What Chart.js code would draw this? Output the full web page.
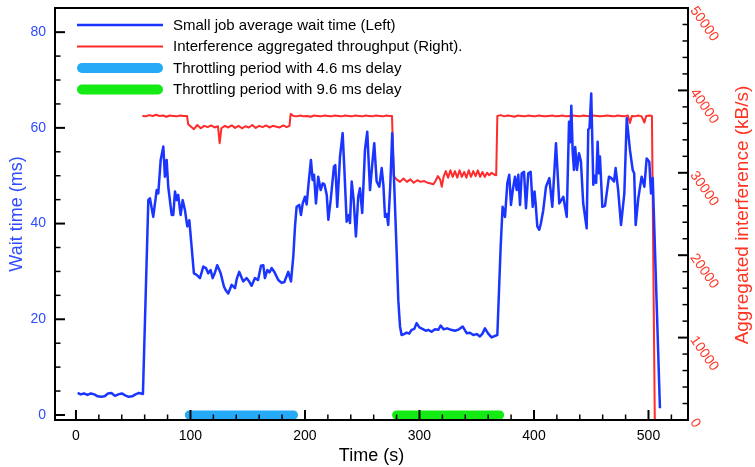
<!DOCTYPE html>
<html>
<head>
<meta charset="utf-8">
<script src="https://cdn.jsdelivr.net/npm/chart.js@4.4.1/dist/chart.umd.min.js"></script>
<style>
body { margin: 0; background: #fff; }
</style>
</head>
<body>
<canvas id="chart" width="755" height="467"></canvas>
<script>
// small job average wait time (ms), left axis
const waitT = [1.5, 4, 7, 10, 13, 16, 19, 22, 25, 28, 31, 34, 37, 40, 43, 46, 49, 52, 55, 58.5,
    63.2, 64.6, 67.5, 70.5, 71.9, 74, 76.3, 77.7, 79.2, 80.6, 83.6, 85, 86.5, 88, 89.3, 91.4, 93.2, 95.2, 97.2, 99,
    101, 103, 105.4, 108.3, 111.2, 113.5, 115.5, 117.6, 119.4, 121, 123.4, 126.4, 129.3, 131, 133, 136, 138.9, 140.5, 142.6, 146.1,
    149, 151, 153.4, 156.3, 159, 161.6, 163.6, 165, 167.1, 169, 170.9, 173, 176.7, 179.6, 182, 185.4, 187.8, 189.8, 191.3, 192.7,
    195, 196.5, 198, 200, 201.5, 202.9, 205.2, 206.7, 207.9, 209.6, 211.6, 213.7, 215.5, 217, 219, 220.4, 222.5, 225.3, 226.5, 228.2,
    230.6, 232.9, 234.3, 236.4, 238.4, 239.3, 240.8, 242.5, 244.5, 246.5, 248, 250, 252.4, 254.4, 256.8, 259.1, 260.5, 262.6, 264.9, 267,
    268.5, 269.9, 271.5, 272.7, 274.5, 276.2, 278, 280, 281.5, 283, 284.4, 286.5, 288.8, 291, 293.2, 295.5, 297.5, 299.9, 303.4, 305.5,
    307.7, 310.6, 313.5, 316.4, 318.5, 321, 324.3, 327.5, 331, 334.5, 337.7, 341.2, 344, 347, 350, 352.8, 355, 357.2, 360, 363,
    365.5, 368, 370.9, 372.6, 374.7, 376.7, 378.4, 379.9, 381.5, 383.4, 384.9, 386.3, 387.8, 389.3, 391.3, 393, 395, 397.1, 398.9, 400.5,
    401.5, 402.9, 404.6, 406, 408.1, 410.5, 413.4, 416, 419.2, 422.1, 425.6, 428.6, 430.6, 431.6, 432.6, 433.8, 434.9, 436, 437.5, 439.3,
    441, 443, 446, 447.4, 448.5, 450, 451.8, 453, 454.3, 455.6, 456.6, 457.6, 459.7, 462, 465.5, 467.5, 469.9, 471.3, 473.5, 476,
    478.9, 481, 483.8, 486.2, 487.5, 488.8, 491.1, 494, 496.4, 498.4, 500.7, 502.2, 503.7, 510]
const waitMs = [4.6, 4.3, 4.5, 4.2, 4.5, 4.3, 3.9, 3.8, 3.9, 4.5, 4.6, 4.0, 4.3, 4.5, 4.1, 3.8, 3.9, 4.3, 4.6, 4.4,
    44.9, 45.3, 41.4, 47, 46.3, 53.3, 56.1, 49.8, 53.3, 47.7, 41.8, 41.8, 46.7, 44.9, 46, 41.8, 44.9, 42.8, 39.4, 40.7,
    35.2, 29.6, 29.3, 28.6, 31, 30.7, 29.6, 30.3, 28.6, 29.5, 31.3, 29.6, 26.8, 26, 25.4, 27.2, 26.5, 28.5, 29.9, 27.9,
    28.6, 28, 27, 28.6, 28.2, 31.2, 31.3, 28.6, 30.3, 29.8, 30.7, 30, 28.2, 27.6, 27.8, 29.9, 27.9, 33.1, 39.4, 43.5,
    43.9, 41.8, 44.2, 45.6, 44, 47.7, 53.3, 49.1, 50.2, 44.2, 49.8, 47, 48.4, 48.2, 46, 40.8, 45, 51.9, 52.2, 43.5,
    54, 58.9, 51.9, 40.4, 41.8, 40.1, 48.8, 45, 37.3, 45.6, 47.4, 42.2, 55.4, 59.2, 47, 53.3, 56.8, 48.8, 47.7, 51.6,
    48, 41.4, 42, 39.7, 48, 58.9, 47.7, 34.5, 24, 18.5, 16.7, 16.9, 17.2, 17, 17.8, 18, 19.2, 18.3, 17.9, 17.6,
    17.8, 17.4, 17.9, 17.8, 18.7, 17.9, 18.1, 17.8, 17.6, 17.9, 18.5, 17.1, 17.2, 16.7, 16.9, 16.4, 17, 18.1, 17, 16.2,
    16.5, 16.7, 35.2, 43.5, 41.4, 48.4, 50.2, 43.9, 47, 49.8, 47, 50.2, 43.9, 50.5, 50.8, 43.2, 50.5, 50.8, 43.5, 46.7,
    44, 39.4, 38.7, 40, 42.8, 47.7, 49.5, 43.5, 56.8, 44.2, 45.6, 41.4, 61.3, 57, 64.6, 55, 51.2, 56, 51.2, 54.7,
    53, 44.2, 39, 59.6, 60, 67.2, 48.1, 50, 48.5, 57.1, 50.5, 54, 43.5, 43.7, 49.8, 49.5, 48.8, 51.6, 47, 39.7,
    46.3, 62, 55.4, 51.2, 50.5, 39.7, 45.3, 49.8, 47.7, 53.6, 52.9, 46.3, 49.5, 1.4]

// interference aggregated throughput (kB/s), right axis
const tputT = [58, 61, 64, 67, 70, 73, 76, 79, 82, 85, 88, 91, 94, 97, 98, 100, 103, 106, 109, 112,
    115, 118, 121, 124, 125.5, 127, 130, 133, 136, 139, 142, 145, 148, 151, 154, 157, 160, 163, 166, 169,
    172, 175, 178, 181, 184, 186.5, 187.5, 190, 193, 196, 199, 202, 205, 208, 211, 214, 217, 220, 223, 226,
    229, 232, 235, 238, 241, 244, 247, 250, 253, 256, 259, 262, 265, 268, 271, 274, 276, 277.5, 280, 283,
    286, 289, 292, 295, 298, 301, 304, 307, 310, 312, 314, 316, 318, 319.5, 321, 323, 325, 327, 329, 331,
    333, 335, 337, 339, 341, 343, 345, 347, 349, 351, 353, 355, 357, 359, 361, 363, 365, 367, 368, 371,
    374, 377, 380, 383, 386, 389, 392, 395, 398, 401, 404, 407, 410, 413, 416, 419, 422, 425, 428, 431,
    434, 437, 440, 443, 446, 449, 452, 455, 458, 461, 464, 467, 470, 473, 476, 479, 482, 483.8, 485.5, 488,
    491, 494, 496.4, 498, 501, 503, 505.5]
const tputKBs = [36900, 36850, 37000, 36900, 37050, 36900, 36950, 36800, 36950, 36900, 36850, 36950, 36900, 36900, 35900, 35650, 35300, 35800, 35400, 35700,
    35550, 35750, 35500, 35650, 33600, 35400, 35700, 35500, 35750, 35450, 35700, 35400, 35650, 35500, 35800, 35450, 35700, 35550, 35750, 35500,
    35700, 35600, 35500, 35750, 35550, 35700, 37150, 36900, 36850, 36950, 36850, 36900, 36800, 36950, 36900, 36850, 36950, 36900, 36850, 36950,
    36900, 36850, 36950, 36900, 36850, 36950, 36900, 36850, 36950, 36900, 36850, 36950, 36900, 36850, 36950, 36900, 36900, 29600, 29200, 28900,
    29300, 28900, 29200, 28800, 29100, 28900, 29000, 28800, 28700, 28600, 29000, 29600, 29200, 28300, 29500, 30200, 29400, 30300, 29500, 30200,
    29400, 30300, 29500, 30100, 29400, 30300, 29500, 30200, 29600, 30300, 29500, 30100, 29500, 30000, 29700, 30000, 29800, 29700, 36900, 37000,
    36850, 36950, 36900, 36800, 36950, 36900, 36850, 36950, 36900, 36850, 36950, 36900, 36850, 36900, 36950, 36850, 36900, 36950, 36850, 36900,
    36950, 36900, 36850, 36950, 36900, 36850, 36950, 36900, 36850, 36900, 36950, 36900, 36850, 36950, 36900, 36850, 36950, 36050, 36900, 36850,
    36950, 36850, 36100, 36900, 36950, 36900, 0]

// throttling periods (s), drawn along wait = 0
const throttle46T = [99, 190]
const throttle96T = [280, 370]
const throttleMs = [0, 0]

const timeTicks = [0, 100, 200, 300, 400, 500]
const waitTicks = [0, 20, 40, 60, 80]
const tputTicks = [0, 10000, 20000, 30000, 40000, 50000]

const FONT = "'Liberation Sans', Arial, Helvetica, sans-serif"
const BLUE = "#1a35ff"
const RED = "#ff2a2a"
const LEFT_TXT = "#2f4cff"
const RIGHT_TXT = "#ff3322"

function pairs(xs, ys){
    return xs.map((x, i) => ({x: x, y: ys[i]}))
}

function fixTicks(values){
    return scale => { scale.ticks = values.map(v => ({value: v})) }
}

// frame with inward tick marks, major and minor
const frameTicks = {
    id: "frameTicks",
    afterDatasetsDraw(chart){
        const ctx = chart.ctx
        const a = chart.chartArea
        const sx = chart.scales.x, sy = chart.scales.y, sy2 = chart.scales.y2
        ctx.save()
        ctx.strokeStyle = "#000"
        ctx.lineCap = "butt"
        function tick(x1, y1, x2, y2, w){
            ctx.lineWidth = w
            ctx.beginPath()
            ctx.moveTo(x1, y1)
            ctx.lineTo(x2, y2)
            ctx.stroke()
        }
        for(let v = 0; v <= 520; v += 20){
            let px = sx.getPixelForValue(v)
            let major = v % 100 === 0
            tick(px, a.bottom, px, a.bottom - (major ? 10 : 5.5), major ? 2 : 1.5)
        }
        for(let v = 0; v <= 80; v += 5){
            let py = sy.getPixelForValue(v)
            let major = v % 20 === 0
            tick(a.left, py, a.left + (major ? 10 : 5.5), py, major ? 2 : 1.5)
        }
        for(let v = 0; v <= 50000; v += 2000){
            let py = sy2.getPixelForValue(v)
            let major = v % 10000 === 0
            tick(a.right, py, a.right - (major ? 10 : 5.5), py, major ? 2 : 1.5)
        }
        ctx.lineWidth = 2
        ctx.strokeRect(a.left, a.top, a.right - a.left, a.bottom - a.top)

        // right axis title reads bottom to top
        ctx.fillStyle = RIGHT_TXT
        ctx.font = "19px " + FONT
        ctx.textAlign = "center"
        ctx.textBaseline = "middle"
        ctx.translate(743, 215)
        ctx.rotate(-Math.PI / 2)
        ctx.fillText("Aggregated interference (kB/s)", 0, 0)
        ctx.restore()
    }
}

// legend inside the top-left of the plot
const insideLegend = {
    id: "insideLegend",
    afterDraw(chart){
        const ctx = chart.ctx
        ctx.save()
        ctx.font = "15px " + FONT
        ctx.textAlign = "left"
        ctx.textBaseline = "middle"
        chart.data.datasets.forEach((ds, i) => {
            let y = 25 + i * 21.5
            let round = ds.borderCapStyle === "round"
            let inset = round ? ds.borderWidth / 2 + 0.5 : 0
            ctx.strokeStyle = ds.borderColor
            ctx.lineWidth = round ? 10 : ds.borderWidth
            ctx.lineCap = round ? "round" : "butt"
            ctx.beginPath()
            ctx.moveTo(77 + inset, y)
            ctx.lineTo(163 - inset, y)
            ctx.stroke()
            ctx.fillStyle = "#000"
            ctx.fillText(ds.label, 173, y + 0.5)
        })
        ctx.restore()
    }
}

const config = {
    type: "line",
    data: {
        datasets: [{
            label: "Small job average wait time (Left)",
            data: pairs(waitT, waitMs),
            borderColor: BLUE,
            borderWidth: 2.5,
            yAxisID: "y"
        }, {
            label: "Interference aggregated throughput (Right).",
            data: pairs(tputT, tputKBs),
            borderColor: RED,
            borderWidth: 2,
            yAxisID: "y2"
        }, {
            label: "Throttling period with 4.6 ms delay",
            data: pairs(throttle46T, throttleMs),
            borderColor: "#25aaf7",
            borderWidth: 9,
            borderCapStyle: "round",
            yAxisID: "y"
        }, {
            label: "Throttling period with 9.6 ms delay",
            data: pairs(throttle96T, throttleMs),
            borderColor: "#14ea14",
            borderWidth: 9,
            borderCapStyle: "round",
            yAxisID: "y"
        }]
    },
    options: {
        responsive: false,
        animation: false,
        elements: {
            point: { radius: 0, hoverRadius: 0 },
            line: { tension: 0, borderJoinStyle: "round" }
        },
        layout: { padding: { top: 8, left: 0, right: 0, bottom: 0 } },
        plugins: {
            legend: { display: false },
            tooltip: { enabled: false }
        },
        scales: {
            x: {
                type: "linear",
                position: "bottom",
                min: -18.3,
                max: 534.5,
                afterBuildTicks: fixTicks(timeTicks),
                afterFit: s => { s.height = 47; s.paddingLeft = 0; s.paddingRight = 0 },
                grid: { display: false, drawTicks: false },
                border: { display: false },
                ticks: {
                    color: "#000",
                    font: { size: 14, family: FONT },
                    padding: 8,
                    maxRotation: 0,
                    autoSkip: false,
                    callback: v => String(v)
                },
                title: {
                    display: true,
                    text: "Time (s)",
                    color: "#000",
                    font: { size: 18, family: FONT },
                    padding: { top: 0, bottom: 0 }
                }
            },
            y: {
                type: "linear",
                position: "left",
                min: -1.05,
                max: 85.05,
                afterBuildTicks: fixTicks(waitTicks),
                afterFit: s => { s.width = 55; s.paddingTop = 0; s.paddingBottom = 0 },
                grid: { display: false, drawTicks: false },
                border: { display: false },
                ticks: {
                    color: LEFT_TXT,
                    font: { size: 14, family: FONT },
                    padding: 9,
                    autoSkip: false,
                    callback: v => String(v)
                },
                title: {
                    display: true,
                    text: "Wait time (ms)",
                    color: LEFT_TXT,
                    font: { size: 18, family: FONT },
                    padding: { top: 6, bottom: 0 }
                }
            },
            y2: {
                type: "linear",
                position: "right",
                min: 0,
                max: 50000,
                afterBuildTicks: fixTicks(tputTicks),
                afterFit: s => { s.width = 67; s.paddingTop = 0; s.paddingBottom = 0 },
                grid: { display: false, drawTicks: false },
                border: { display: false },
                ticks: {
                    color: RIGHT_TXT,
                    font: { size: 14, family: FONT },
                    padding: 5,
                    autoSkip: false,
                    minRotation: -55,
                    maxRotation: 0,
                    callback: v => String(v)
                }
            }
        }
    },
    plugins: [frameTicks, insideLegend]
}

const chart = new Chart(document.getElementById("chart"), config)
</script>
</body>
</html>
